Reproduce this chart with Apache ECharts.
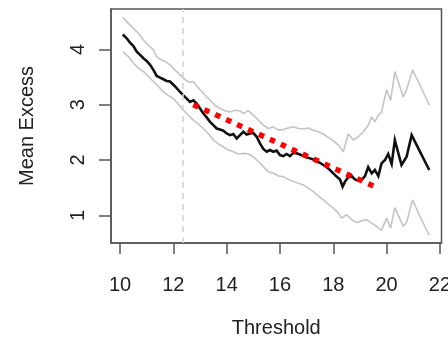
<!DOCTYPE html>
<html>
<head>
<meta charset="utf-8">
<script src="https://cdn.jsdelivr.net/npm/echarts@6/dist/echarts.min.js"></script>
<style>
  html, body { margin: 0; padding: 0; background: #fff; }
  #chart { width: 448px; height: 338px; }
</style>
</head>
<body>
<div id="chart"></div>
<script>
// Mean excess function with pointwise confidence bands
const meanX = [10.10, 10.25, 10.375, 10.5, 10.625, 10.75, 10.875, 11.0, 11.125, 11.25, 11.375, 11.5, 11.625, 11.75, 11.875, 12.0, 12.125, 12.25, 12.375, 12.5, 12.625, 12.75, 12.875, 13.0, 13.125, 13.25, 13.375, 13.5, 13.625, 13.75, 13.875, 14.0, 14.125, 14.25, 14.375, 14.5, 14.625, 14.75, 14.875, 15.0, 15.125, 15.25, 15.375, 15.5, 15.625, 15.75, 15.875, 16.0, 16.125, 16.25, 16.375, 16.5, 16.625, 16.75, 16.875, 17.0, 17.125, 17.25, 17.375, 17.5, 17.625, 17.75, 17.875, 18.0, 18.125, 18.25, 18.35, 18.44, 18.56, 18.69, 18.81, 18.94, 19.06, 19.19, 19.31, 19.44, 19.56, 19.69, 19.81, 19.94, 20.06, 20.19, 20.31, 20.56, 20.75, 20.94, 21.6];
const meanY = [4.27, 4.20, 4.12, 4.06, 3.96, 3.90, 3.84, 3.79, 3.72, 3.63, 3.52, 3.49, 3.46, 3.43, 3.42, 3.36, 3.30, 3.23, 3.17, 3.11, 3.05, 3.08, 3.02, 2.93, 2.84, 2.77, 2.69, 2.63, 2.57, 2.55, 2.53, 2.48, 2.45, 2.47, 2.39, 2.45, 2.51, 2.46, 2.48, 2.49, 2.42, 2.30, 2.20, 2.15, 2.18, 2.15, 2.17, 2.09, 2.07, 2.11, 2.07, 2.13, 2.12, 2.10, 2.07, 2.05, 2.03, 2.01, 1.98, 1.95, 1.91, 1.87, 1.82, 1.76, 1.70, 1.65, 1.52, 1.61, 1.69, 1.71, 1.65, 1.63, 1.64, 1.71, 1.87, 1.76, 1.82, 1.71, 1.94, 2.00, 2.11, 1.93, 2.36, 1.91, 2.06, 2.45, 1.82];

const upperX = [10.10, 10.31, 10.5, 10.69, 10.875, 11.06, 11.25, 11.375, 11.5, 11.69, 11.875, 12.06, 12.25, 12.44, 12.625, 12.75, 12.875, 13.0, 13.19, 13.375, 13.56, 13.75, 13.94, 14.125, 14.31, 14.5, 14.625, 14.81, 15.0, 15.19, 15.375, 15.56, 15.75, 15.94, 16.125, 16.31, 16.5, 16.69, 16.875, 17.06, 17.25, 17.44, 17.625, 17.81, 18.0, 18.19, 18.375, 18.56, 18.75, 18.94, 19.125, 19.31, 19.44, 19.56, 19.69, 19.81, 20.0, 20.15, 20.31, 20.625, 20.75, 20.975, 21.25, 21.6];
const upperY = [4.58, 4.47, 4.38, 4.29, 4.17, 4.08, 3.99, 3.87, 3.82, 3.78, 3.72, 3.63, 3.54, 3.45, 3.40, 3.42, 3.34, 3.27, 3.17, 3.08, 2.99, 2.93, 2.89, 2.87, 2.90, 2.89, 2.84, 2.89, 2.81, 2.72, 2.63, 2.57, 2.60, 2.54, 2.55, 2.58, 2.60, 2.57, 2.56, 2.58, 2.54, 2.51, 2.47, 2.41, 2.35, 2.27, 2.15, 2.47, 2.36, 2.42, 2.51, 2.63, 2.78, 2.69, 2.81, 2.87, 3.27, 3.08, 3.60, 3.14, 3.27, 3.63, 3.36, 2.99];

const lowerX = [10.10, 10.31, 10.5, 10.69, 10.875, 11.06, 11.25, 11.44, 11.625, 11.81, 12.0, 12.19, 12.375, 12.56, 12.75, 12.94, 13.125, 13.31, 13.5, 13.69, 13.875, 14.06, 14.25, 14.44, 14.625, 14.81, 15.0, 15.19, 15.375, 15.56, 15.75, 15.94, 16.125, 16.31, 16.5, 16.69, 16.875, 17.06, 17.25, 17.44, 17.625, 17.81, 18.0, 18.19, 18.31, 18.5, 18.69, 18.875, 19.06, 19.25, 19.44, 19.625, 19.81, 20.0, 20.15, 20.31, 20.625, 20.75, 20.975, 21.25, 21.6];
const lowerY = [3.96, 3.87, 3.75, 3.66, 3.60, 3.51, 3.42, 3.33, 3.23, 3.17, 3.11, 3.01, 2.90, 2.81, 2.72, 2.65, 2.57, 2.48, 2.36, 2.29, 2.24, 2.18, 2.15, 2.11, 2.12, 2.11, 2.06, 1.97, 1.88, 1.79, 1.76, 1.71, 1.70, 1.65, 1.61, 1.58, 1.55, 1.49, 1.43, 1.35, 1.28, 1.20, 1.13, 1.04, 0.95, 1.01, 0.92, 0.87, 0.90, 0.92, 0.86, 0.80, 0.73, 0.95, 0.77, 1.14, 0.80, 0.87, 1.28, 0.98, 0.64];

// Linear trend over the fitted range
const trendX = [12.75, 19.5];
const trendY = [3.00, 1.53];

// Chosen threshold
const thresholdMark = 12.37;

const xTicks = [10, 12, 14, 16, 18, 20, 22];
const yTicks = [1, 2, 3, 4];

const zip = (xs, ys) => xs.map((x, i) => [x, ys[i]]);

const FONT = 'Liberation Sans';
const FONT_SIZE = 20;
const AXIS_COLOR = '#555';
const TEXT_COLOR = '#222';

const chart = echarts.init(document.getElementById('chart'), null, { renderer: 'canvas' });

chart.setOption({
  animation: false,
  backgroundColor: '#fff',
  grid: {
    left: 111, top: 9, right: 6.5, bottom: 95,
    outerBoundsMode: 'none', containLabel: false,
    show: true, borderColor: AXIS_COLOR, borderWidth: 1.5, backgroundColor: 'transparent'
  },
  xAxis: {
    type: 'value', min: 9.66, max: 22.06,
    name: 'Threshold', nameLocation: 'middle', nameGap: 75,
    nameTextStyle: { fontFamily: FONT, fontSize: FONT_SIZE, color: TEXT_COLOR },
    axisLine: { show: true, lineStyle: { color: AXIS_COLOR, width: 1.5 } },
    axisTick: { show: true, customValues: xTicks, length: 11, lineStyle: { color: AXIS_COLOR, width: 1.5 } },
    axisLabel: { customValues: xTicks, margin: 32, fontFamily: FONT, fontSize: FONT_SIZE, color: TEXT_COLOR, showMinLabel: true, showMaxLabel: true },
    splitLine: { show: false }
  },
  yAxis: {
    type: 'value', min: 0.5, max: 4.73,
    name: 'Mean Excess', nameLocation: 'middle', nameGap: 74, nameRotate: 90,
    nameTextStyle: { fontFamily: FONT, fontSize: FONT_SIZE, color: TEXT_COLOR },
    axisLine: { show: true, lineStyle: { color: AXIS_COLOR, width: 1.5 } },
    axisTick: { show: true, customValues: yTicks, length: 12, lineStyle: { color: AXIS_COLOR, width: 1.5 } },
    axisLabel: { customValues: yTicks, rotate: 90, margin: 23, fontFamily: FONT, fontSize: FONT_SIZE, color: TEXT_COLOR },
    splitLine: { show: false }
  },
  series: [
    {
      name: 'upper', type: 'line', data: zip(upperX, upperY), symbol: 'none',
      lineStyle: { color: '#c4c4c4', width: 1.6 }, z: 2,
      markLine: {
        silent: true, symbol: 'none', label: { show: false },
        lineStyle: { color: '#d4d4d4', width: 1.6, type: [6, 5] },
        data: [{ xAxis: thresholdMark }]
      }
    },
    {
      name: 'lower', type: 'line', data: zip(lowerX, lowerY), symbol: 'none',
      lineStyle: { color: '#c4c4c4', width: 1.6 }, z: 2
    },
    {
      name: 'mean', type: 'line', data: zip(meanX, meanY), symbol: 'none',
      lineStyle: { color: '#111', width: 2.6, join: 'miter' }, z: 3
    },
    {
      name: 'trend', type: 'line', data: zip(trendX, trendY), symbol: 'none',
      lineStyle: { color: '#ff0000', width: 5.5, type: [5.5, 6.5], cap: 'butt' }, z: 4
    }
  ]
});
</script>
</body>
</html>
